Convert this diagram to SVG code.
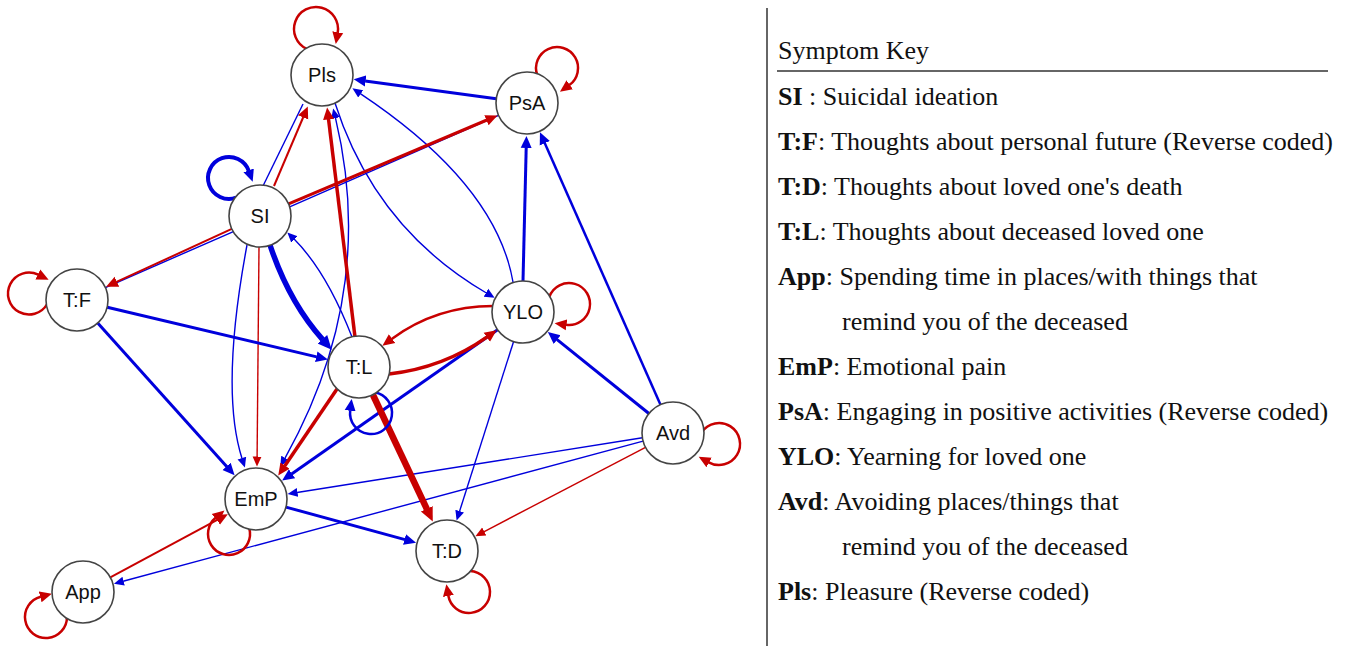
<svg xmlns="http://www.w3.org/2000/svg" width="1351" height="647" viewBox="0 0 1351 647">
<style>
.b{stroke:#0000dc;fill:none}
.r{stroke:#c80000;fill:none}
.t{stroke-width:1.4}
.node circle{fill:#fff;stroke:#444;stroke-width:1.6}
.node text{font-family:"Liberation Sans",Arial,sans-serif;font-size:20px;text-anchor:middle;fill:#111}
.key{font-family:"Liberation Serif","Times New Roman",serif;font-size:26px;fill:#111}
.key .k{font-weight:bold}
</style>
<defs>
<marker id="bs" markerUnits="userSpaceOnUse" viewBox="0 -6 12 12" markerWidth="12" markerHeight="12" refX="0.5" refY="0" orient="auto-start-reverse"><path d="M0,-4.5 L10,0 L0,4.5z" fill="#0000dc"/></marker>
<marker id="rs" markerUnits="userSpaceOnUse" viewBox="0 -6 12 12" markerWidth="12" markerHeight="12" refX="0.5" refY="0" orient="auto"><path d="M0,-4.5 L10,0 L0,4.5z" fill="#c80000"/></marker>
<marker id="bm" markerUnits="userSpaceOnUse" viewBox="0 -7 14 14" markerWidth="14" markerHeight="14" refX="0.5" refY="0" orient="auto"><path d="M0,-5.5 L12,0 L0,5.5z" fill="#0000dc"/></marker>
<marker id="rm" markerUnits="userSpaceOnUse" viewBox="0 -7 14 14" markerWidth="14" markerHeight="14" refX="0.5" refY="0" orient="auto"><path d="M0,-5.5 L12,0 L0,5.5z" fill="#c80000"/></marker>
<marker id="bl" markerUnits="userSpaceOnUse" viewBox="0 -8 16 16" markerWidth="16" markerHeight="16" refX="0.5" refY="0" orient="auto"><path d="M0,-6.5 L14,0 L0,6.5z" fill="#0000dc"/></marker>
<marker id="rl" markerUnits="userSpaceOnUse" viewBox="0 -8 16 16" markerWidth="16" markerHeight="16" refX="0.5" refY="0" orient="auto"><path d="M0,-6.5 L14,0 L0,6.5z" fill="#c80000"/></marker>
</defs>
<rect width="1351" height="647" fill="#fff"/>
<g id="connectors">
<!-- thin blue -->
<path class="b t" d="M105.4,287.6 L498.6,115.4"/>
<path class="b t" d="M263,186 L303,104"/>
<path class="b t" d="M335.4,117.7 Q377.5,292.5 284.9,458.3" marker-start="url(#bs)" marker-end="url(#bs)"/>
<path class="b t" d="M513,282 Q496,184 360.3,93.6" marker-end="url(#bs)"/>
<path class="b t" d="M335,103 Q375,228 486.4,293" marker-end="url(#bs)"/>
<path class="b t" d="M247,245 Q220,389.5 242,458.5" marker-end="url(#bs)"/>
<path class="b t" d="M352,337 Q326.5,271.5 294.1,239.1" marker-end="url(#bs)"/>
<path class="b t" d="M642.4,437.8 L297,492.5" marker-end="url(#bs)"/>
<path class="b t" d="M643.1,441.1 L123.1,581.2" marker-end="url(#bs)"/>
<path class="b t" d="M513.6,341.5 L459.5,511.5" marker-end="url(#bs)"/>
<!-- thin red -->
<path class="r t" d="M259,247 L257.1,457" marker-end="url(#rs)"/>
<path class="r t" d="M645.5,447.3 L483.8,531.8" marker-end="url(#rs)"/>
<!-- medium blue -->
<path class="b" stroke-width="3" d="M496.3,98.8 L365.1,80.9" marker-end="url(#bm)"/>
<path class="b" stroke-width="3" d="M523,281 L526.2,147.5" marker-end="url(#bm)"/>
<path class="b" stroke-width="2.5" d="M660.5,404.7 L544.6,142.8" marker-end="url(#bm)"/>
<path class="b" stroke-width="3" d="M648.9,413.5 L556.8,339.3" marker-end="url(#bm)"/>
<path class="b" stroke-width="3" d="M107.2,307.2 L316.7,356.9" marker-end="url(#bm)"/>
<path class="b" stroke-width="3" d="M97.7,323 L226.9,466.7" marker-end="url(#bm)"/>
<path class="b" stroke-width="3" d="M497.6,329.8 L291.6,474" marker-end="url(#bm)"/>
<path class="b" stroke-width="3" d="M285.9,507.1 L405,539.6" marker-end="url(#bm)"/>
<!-- medium red -->
<path class="r" stroke-width="3" d="M288.6,203.9 L486.9,120" marker-end="url(#rm)"/>
<path class="r" stroke-width="2" d="M274,186 L303.3,117" marker-end="url(#rm)"/>
<path class="r" stroke-width="3.5" d="M355,337 L328.5,118.9" marker-end="url(#rm)"/>
<path class="r" stroke-width="2" d="M231.8,228.9 L116.5,281.9" marker-end="url(#rm)"/>
<path class="r" stroke-width="3.5" d="M337,389 L284.7,466.1" marker-end="url(#rm)"/>
<path class="r" stroke-width="2" d="M110.3,577.3 L217.7,519.6" marker-end="url(#rm)"/>
<path class="r" stroke-width="2.5" d="M493,306 Q436.5,306 391.7,338.9" marker-end="url(#rm)"/>
<path class="r" stroke-width="3.5" d="M389,374 Q443,368 487.2,336.9" marker-end="url(#rm)"/>
<!-- thick -->
<path class="b" stroke-width="5.5" d="M270,245 Q289,302 322.7,339.6" marker-end="url(#bl)"/>
<path class="r" stroke-width="6.5" d="M373,395 L427,509.3" marker-end="url(#rl)"/>
<!-- self loops -->
<path class="r" stroke-width="2.5" d="M306.7,48.9 A22,22 0 1 1 337.7,32.7" marker-end="url(#rm)"/>
<path class="r" stroke-width="2.5" d="M537.3,75.2 A21,21 0 1 1 569.3,85.1" marker-end="url(#rm)"/>
<path class="b" stroke-width="4" d="M236.2,197.7 A21,21 0 1 1 248.8,170.9" marker-end="url(#bm)"/>
<path class="r" stroke-width="2.5" d="M47.2,304 A21,21 0 1 1 38.3,274.7" marker-end="url(#rm)"/>
<path class="r" stroke-width="2.5" d="M549.3,296.8 A21,21 0 1 1 566,324.8" marker-end="url(#rm)"/>
<path class="b" stroke-width="2.5" d="M374.6,392.3 A21,21 0 1 1 350.2,410.3" marker-end="url(#bm)"/>
<path class="r" stroke-width="2.5" d="M701.8,432 A21,21 0 1 1 708.7,462.3" marker-end="url(#rm)"/>
<path class="r" stroke-width="2.5" d="M470.1,571 A21,21 0 1 1 448.3,595.5" marker-end="url(#rm)"/>
<path class="r" stroke-width="2.5" d="M249.2,528.2 A21,21 0 1 1 215.6,517.8" marker-end="url(#rm)"/>
<path class="r" stroke-width="2.5" d="M67,617 A21,21 0 1 1 40.7,596.7" marker-end="url(#rm)"/>
</g>
<g id="node-Pls" class="node"><circle cx="322" cy="75" r="31"/><text x="322" y="82">Pls</text></g>
<g id="node-PsA" class="node"><circle cx="527" cy="103" r="31"/><text x="527" y="110">PsA</text></g>
<g id="node-SI" class="node"><circle cx="260" cy="216" r="31"/><text x="260" y="223">SI</text></g>
<g id="node-TF" class="node"><circle cx="77" cy="300" r="31"/><text x="77" y="307">T:F</text></g>
<g id="node-TL" class="node"><circle cx="359" cy="367" r="31"/><text x="359" y="374">T:L</text></g>
<g id="node-YLO" class="node"><circle cx="523" cy="312" r="31"/><text x="523" y="319">YLO</text></g>
<g id="node-EmP" class="node"><circle cx="256" cy="499" r="31"/><text x="256" y="506">EmP</text></g>
<g id="node-App" class="node"><circle cx="83" cy="592" r="31"/><text x="83" y="599">App</text></g>
<g id="node-Avd" class="node"><circle cx="673" cy="433" r="31"/><text x="673" y="440">Avd</text></g>
<g id="node-TD" class="node"><circle cx="447" cy="551" r="31"/><text x="447" y="558">T:D</text></g>
<g id="legend">
<line x1="767" y1="8" x2="767" y2="646" stroke="#333" stroke-width="1.5"/>
<line x1="777" y1="71" x2="1328" y2="71" stroke="#333" stroke-width="1.5"/>
<text class="key" x="778" y="58.5">Symptom Key</text>
<text class="key" x="778" y="104.5"><tspan class="k">SI</tspan> : Suicidal ideation</text>
<text class="key" x="778" y="149.5"><tspan class="k">T:F</tspan>: Thoughts about personal future (Reverse coded)</text>
<text class="key" x="778" y="194.5"><tspan class="k">T:D</tspan>: Thoughts about loved one's death</text>
<text class="key" x="778" y="239.5"><tspan class="k">T:L</tspan>: Thoughts about deceased loved one</text>
<text class="key" x="778" y="284.5"><tspan class="k">App</tspan>: Spending time in places/with things that</text>
<text class="key" x="842" y="329.5">remind you of the deceased</text>
<text class="key" x="778" y="374.5"><tspan class="k">EmP</tspan>: Emotional pain</text>
<text class="key" x="778" y="419.5"><tspan class="k">PsA</tspan>: Engaging in positive activities (Reverse coded)</text>
<text class="key" x="778" y="464.5"><tspan class="k">YLO</tspan>: Yearning for loved one</text>
<text class="key" x="778" y="509.5"><tspan class="k">Avd</tspan>: Avoiding places/things that</text>
<text class="key" x="842" y="554.5">remind you of the deceased</text>
<text class="key" x="778" y="599.5"><tspan class="k">Pls</tspan>: Pleasure (Reverse coded)</text>
</g>
</svg>
